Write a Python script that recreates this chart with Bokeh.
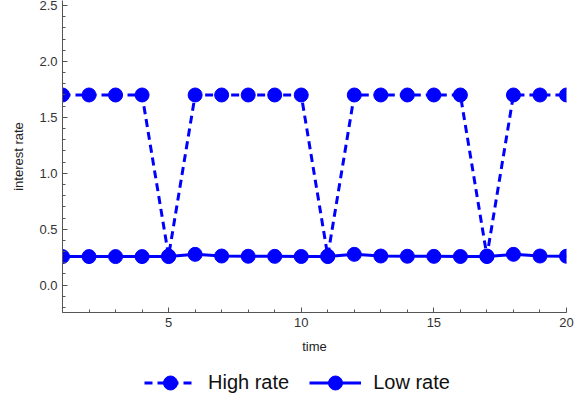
from bokeh.plotting import figure
from bokeh.layouts import column
from bokeh.models import (FixedTicker, NumeralTickFormatter, Legend, LegendItem, Range1d)
from bokeh.embed import file_html
from bokeh.resources import INLINE

# Data
time = list(range(1, 21))
high_rate = [1.7, 1.7, 1.7, 1.7, 0.26, 1.7, 1.7, 1.7, 1.7, 1.7,
             0.26, 1.7, 1.7, 1.7, 1.7, 1.7, 0.26, 1.7, 1.7, 1.7]
low_rate = [0.255, 0.255, 0.255, 0.255, 0.255, 0.275, 0.26, 0.258, 0.257, 0.256,
            0.255, 0.275, 0.26, 0.258, 0.257, 0.256, 0.255, 0.275, 0.26, 0.258]
x_ticks = [5, 10, 15, 20]
y_ticks = [0.0, 0.5, 1.0, 1.5, 2.0, 2.5]
series_labels = ["High rate", "Low rate"]

FONT = "Liberation Sans"
BLUE = "#0000FF"

p = figure(width=587, height=356, output_backend="svg", toolbar_location=None,
           x_range=Range1d(1, 20), y_range=Range1d(-0.245, 2.545),
           min_border_left=62, min_border_right=21, min_border_top=0,
           min_border_bottom=44)
p.outline_line_color = None
p.grid.visible = False
p.background_fill_color = "white"
p.border_fill_color = "white"

hl = p.line(time, high_rate, line_color=BLUE, line_width=3, line_dash="8 5")
hs = p.scatter(time, high_rate, size=14, fill_color=BLUE, line_color=BLUE)
ll = p.line(time, low_rate, line_color=BLUE, line_width=3)
ls = p.scatter(time, low_rate, size=14, fill_color=BLUE, line_color=BLUE)

for ax in (p.xaxis[0], p.yaxis[0]):
    ax.axis_line_color = "#555555"
    ax.major_tick_line_color = "#555555"
    ax.minor_tick_line_color = "#555555"
    ax.major_tick_in = 5
    ax.major_tick_out = 0
    ax.minor_tick_in = 3
    ax.minor_tick_out = 0
    ax.major_label_text_font = FONT
    ax.major_label_text_font_size = "13px"
    ax.major_label_text_color = "#333333"
    ax.axis_label_text_font = FONT
    ax.axis_label_text_font_size = "13px"
    ax.axis_label_text_font_style = "normal"
    ax.axis_label_text_color = "#222222"

p.xaxis.ticker = FixedTicker(ticks=x_ticks, minor_ticks=time)
p.yaxis.ticker = FixedTicker(ticks=y_ticks,
                             minor_ticks=[round(-0.2 + 0.1 * i, 2) for i in range(28)])
p.yaxis.formatter = NumeralTickFormatter(format="0.0")
p.xaxis.axis_label = "time"
p.yaxis.axis_label = "interest rate"
p.xaxis.major_label_standoff = 5
p.xaxis.axis_label_standoff = 9
p.yaxis.major_label_standoff = 5
p.yaxis.axis_label_standoff = 10

# Legend strip below the chart (sample glyphs kept outside its visible range)
pl = figure(width=587, height=48, output_backend="svg", toolbar_location=None,
            x_range=Range1d(0, 1), y_range=Range1d(0, 1),
            x_axis_location=None, y_axis_location=None,
            min_border_left=0, min_border_right=0, min_border_top=0, min_border_bottom=0)
pl.outline_line_color = None
pl.grid.visible = False
off = [-10, -11]
lh_line = pl.line(off, off, line_color=BLUE, line_width=3, line_dash="8 5")
lh_dot = pl.scatter(off, off, size=14, fill_color=BLUE, line_color=BLUE)
ll_line = pl.line(off, off, line_color=BLUE, line_width=3)
ll_dot = pl.scatter(off, off, size=14, fill_color=BLUE, line_color=BLUE)

legend = Legend(items=[LegendItem(label=series_labels[0], renderers=[lh_line, lh_dot]),
                       LegendItem(label=series_labels[1], renderers=[ll_line, ll_dot])],
                orientation="horizontal", location=(82, 4),
                padding=0, margin=0, spacing=20, label_standoff=12,
                glyph_width=52, glyph_height=35,
                label_text_font=FONT, label_text_font_size="20px",
                label_text_color="#111111",
                border_line_color=None, background_fill_alpha=0)
pl.add_layout(legend, "center")

layout = column(p, pl, spacing=0)
open("out.html", "w").write(file_html(layout, INLINE))
